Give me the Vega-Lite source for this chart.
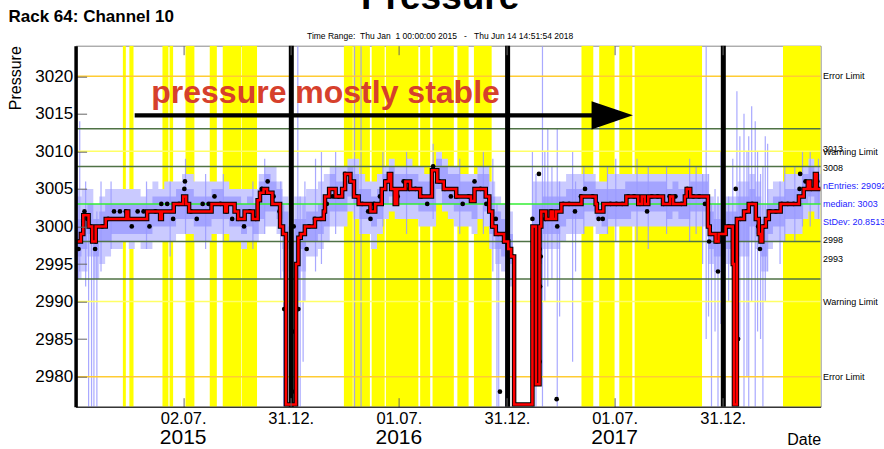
{
  "$schema": "https://vega.github.io/schema/vega-lite/v6.json",
  "width": 745,
  "height": 361,
  "autosize": {"type": "none"},
  "padding": {"left": 75.6, "top": 45.7, "right": 63.4, "bottom": 42.3},
  "background": "white",
  "config": {"font": "Liberation Sans", "view": {"stroke": "#888", "strokeWidth": 1}, "axis": {"grid": false}},
  "title": {"text": "Pressure", "subtitle": "Time Range:\u00a0\u00a0Thu Jan\u00a0\u00a01 00:00:00 2015\u00a0\u00a0\u00a0-\u00a0\u00a0\u00a0Thu Jun 14 14:51:54 2018", "font": "Liberation Sans", "fontSize": 37, "fontWeight": "bold", "color": "black", "subtitleFont": "Liberation Sans", "subtitleFontSize": 8.5, "subtitleColor": "black", "subtitlePadding": 15, "anchor": "middle", "frame": "group", "offset": -34, "dx": -8},
  "datasets": {
    "yb": [
      {"d": "2015-03-22", "d2": "2015-03-27"}, {"d": "2015-04-02", "d2": "2015-04-09"},
      {"d": "2015-05-28", "d2": "2015-06-07"}, {"d": "2015-06-09", "d2": "2015-06-15"},
      {"d": "2015-07-06", "d2": "2015-07-21"}, {"d": "2015-08-16", "d2": "2015-08-28"},
      {"d": "2015-09-07", "d2": "2015-10-08"}, {"d": "2015-10-09", "d2": "2015-11-04"},
      {"d": "2016-03-30", "d2": "2016-04-14"}, {"d": "2016-04-15", "d2": "2016-05-13"},
      {"d": "2016-05-16", "d2": "2016-06-07"}, {"d": "2016-06-09", "d2": "2016-08-03"},
      {"d": "2016-08-06", "d2": "2016-08-23"}, {"d": "2016-08-27", "d2": "2016-10-02"},
      {"d": "2016-10-08", "d2": "2016-10-27"}, {"d": "2016-11-05", "d2": "2016-12-05"},
      {"d": "2017-05-06", "d2": "2017-05-26"}, {"d": "2017-06-05", "d2": "2017-07-01"},
      {"d": "2017-07-09", "d2": "2017-07-31"}, {"d": "2017-08-04", "d2": "2017-11-26"},
      {"d": "2018-04-12", "d2": "2018-06-15"}
    ],
    "band": [
      {"d":"2015-01-01","lo":2996,"hi":3001,"lo2":2993,"hi2":3004},
      {"d":"2015-01-11","lo":2997,"hi":3002,"lo2":2994,"hi2":3005},
      {"d":"2015-01-21","lo":2999,"hi":3003,"lo2":2996,"hi2":3005},
      {"d":"2015-01-31","lo":2996,"hi":3001,"lo2":2993,"hi2":3003},
      {"d":"2015-02-10","lo":2998,"hi":3002,"lo2":2995,"hi2":3004},
      {"d":"2015-02-20","lo":2998,"hi":3003,"lo2":2996,"hi2":3005},
      {"d":"2015-03-02","lo":2999,"hi":3003,"lo2":2997,"hi2":3005},
      {"d":"2015-03-12","lo":2999,"hi":3003,"lo2":2997,"hi2":3005},
      {"d":"2015-03-22","lo":2999,"hi":3003,"lo2":2998,"hi2":3005},
      {"d":"2015-04-01","lo":2999,"hi":3003,"lo2":2997,"hi2":3005},
      {"d":"2015-04-11","lo":2999,"hi":3003,"lo2":2998,"hi2":3005},
      {"d":"2015-04-21","lo":2999,"hi":3003,"lo2":2997,"hi2":3004},
      {"d":"2015-05-01","lo":2999,"hi":3003,"lo2":2997,"hi2":3005},
      {"d":"2015-05-11","lo":3000,"hi":3004,"lo2":2998,"hi2":3006},
      {"d":"2015-05-21","lo":3000,"hi":3004,"lo2":2998,"hi2":3005},
      {"d":"2015-05-31","lo":3000,"hi":3004,"lo2":2998,"hi2":3006},
      {"d":"2015-06-10","lo":3000,"hi":3004,"lo2":2998,"hi2":3006},
      {"d":"2015-06-20","lo":3001,"hi":3005,"lo2":2999,"hi2":3006},
      {"d":"2015-06-30","lo":3001,"hi":3005,"lo2":2999,"hi2":3007},
      {"d":"2015-07-10","lo":3001,"hi":3005,"lo2":2999,"hi2":3007},
      {"d":"2015-07-20","lo":3000,"hi":3004,"lo2":2998,"hi2":3006},
      {"d":"2015-07-30","lo":3000,"hi":3004,"lo2":2998,"hi2":3006},
      {"d":"2015-08-09","lo":3000,"hi":3004,"lo2":2998,"hi2":3006},
      {"d":"2015-08-19","lo":3001,"hi":3005,"lo2":2999,"hi2":3006},
      {"d":"2015-08-29","lo":3001,"hi":3005,"lo2":2999,"hi2":3006},
      {"d":"2015-09-08","lo":3001,"hi":3004,"lo2":2999,"hi2":3006},
      {"d":"2015-09-18","lo":3000,"hi":3004,"lo2":2998,"hi2":3005},
      {"d":"2015-09-28","lo":3000,"hi":3004,"lo2":2998,"hi2":3005},
      {"d":"2015-10-08","lo":2999,"hi":3003,"lo2":2997,"hi2":3005},
      {"d":"2015-10-18","lo":3000,"hi":3004,"lo2":2998,"hi2":3005},
      {"d":"2015-10-28","lo":2999,"hi":3003,"lo2":2998,"hi2":3005},
      {"d":"2015-11-07","lo":3001,"hi":3006,"lo2":2999,"hi2":3007},
      {"d":"2015-11-17","lo":3002,"hi":3007,"lo2":3000,"hi2":3008},
      {"d":"2015-11-27","lo":3002,"hi":3006,"lo2":3000,"hi2":3008},
      {"d":"2015-12-07","lo":3001,"hi":3005,"lo2":2999,"hi2":3006},
      {"d":"2015-12-17","lo":2997,"hi":3002,"lo2":2994,"hi2":3004},
      {"d":"2015-12-27","lo":2999,"hi":2999,"lo2":2999,"hi2":2999},
      {"d":"2016-01-06","lo":2993,"hi":3001,"lo2":2990,"hi2":3004},
      {"d":"2016-01-16","lo":2997,"hi":3001,"lo2":2994,"hi2":3004},
      {"d":"2016-01-26","lo":2998,"hi":3002,"lo2":2996,"hi2":3005},
      {"d":"2016-02-05","lo":2998,"hi":3002,"lo2":2996,"hi2":3005},
      {"d":"2016-02-15","lo":2999,"hi":3003,"lo2":2997,"hi2":3006},
      {"d":"2016-02-25","lo":3000,"hi":3004,"lo2":2998,"hi2":3007},
      {"d":"2016-03-06","lo":3002,"hi":3007,"lo2":3000,"hi2":3008},
      {"d":"2016-03-16","lo":3002,"hi":3006,"lo2":3000,"hi2":3008},
      {"d":"2016-03-26","lo":3002,"hi":3006,"lo2":3000,"hi2":3008},
      {"d":"2016-04-05","lo":3004,"hi":3008,"lo2":3002,"hi2":3009},
      {"d":"2016-04-15","lo":3003,"hi":3007,"lo2":3001,"hi2":3009},
      {"d":"2016-04-25","lo":3001,"hi":3005,"lo2":2999,"hi2":3007},
      {"d":"2016-05-05","lo":3001,"hi":3005,"lo2":2999,"hi2":3006},
      {"d":"2016-05-15","lo":3000,"hi":3004,"lo2":2997,"hi2":3006},
      {"d":"2016-05-25","lo":3001,"hi":3005,"lo2":2999,"hi2":3007},
      {"d":"2016-06-04","lo":3003,"hi":3007,"lo2":3001,"hi2":3008},
      {"d":"2016-06-14","lo":3004,"hi":3008,"lo2":3002,"hi2":3009},
      {"d":"2016-06-24","lo":3003,"hi":3007,"lo2":3001,"hi2":3008},
      {"d":"2016-07-04","lo":3003,"hi":3007,"lo2":3001,"hi2":3008},
      {"d":"2016-07-14","lo":3003,"hi":3007,"lo2":3001,"hi2":3009},
      {"d":"2016-07-24","lo":3003,"hi":3007,"lo2":3001,"hi2":3008},
      {"d":"2016-08-03","lo":3002,"hi":3006,"lo2":3000,"hi2":3008},
      {"d":"2016-08-13","lo":3002,"hi":3006,"lo2":3000,"hi2":3007},
      {"d":"2016-08-23","lo":3002,"hi":3006,"lo2":3000,"hi2":3008},
      {"d":"2016-09-02","lo":3005,"hi":3009,"lo2":3003,"hi2":3010},
      {"d":"2016-09-12","lo":3003,"hi":3008,"lo2":3002,"hi2":3009},
      {"d":"2016-09-22","lo":3003,"hi":3007,"lo2":3001,"hi2":3008},
      {"d":"2016-10-02","lo":3002,"hi":3007,"lo2":3000,"hi2":3008},
      {"d":"2016-10-12","lo":3002,"hi":3006,"lo2":3000,"hi2":3007},
      {"d":"2016-10-22","lo":3002,"hi":3006,"lo2":3000,"hi2":3007},
      {"d":"2016-11-01","lo":3001,"hi":3006,"lo2":2999,"hi2":3007},
      {"d":"2016-11-11","lo":3003,"hi":3007,"lo2":3001,"hi2":3008},
      {"d":"2016-11-21","lo":3002,"hi":3007,"lo2":3000,"hi2":3008},
      {"d":"2016-12-01","lo":2999,"hi":3004,"lo2":2997,"hi2":3006},
      {"d":"2016-12-11","lo":2997,"hi":3002,"lo2":2995,"hi2":3004},
      {"d":"2016-12-21","lo":2996,"hi":3001,"lo2":2994,"hi2":3003},
      {"d":"2016-12-31","lo":2995,"hi":2999,"lo2":2992,"hi2":3002},
      {"d":"2017-01-10","lo":2996,"hi":2996,"lo2":2996,"hi2":2996},
      {"d":"2017-02-12","lo":2997,"hi":3003,"lo2":2994,"hi2":3006},
      {"d":"2017-02-19","lo":2998,"hi":3003,"lo2":2995,"hi2":3006},
      {"d":"2017-03-01","lo":2999,"hi":3004,"lo2":2997,"hi2":3006},
      {"d":"2017-03-11","lo":2999,"hi":3004,"lo2":2997,"hi2":3006},
      {"d":"2017-03-21","lo":2999,"hi":3004,"lo2":2997,"hi2":3006},
      {"d":"2017-03-31","lo":3000,"hi":3004,"lo2":2998,"hi2":3006},
      {"d":"2017-04-10","lo":3001,"hi":3005,"lo2":2999,"hi2":3007},
      {"d":"2017-04-20","lo":3001,"hi":3005,"lo2":2999,"hi2":3007},
      {"d":"2017-04-30","lo":3001,"hi":3005,"lo2":2999,"hi2":3007},
      {"d":"2017-05-10","lo":3002,"hi":3006,"lo2":3000,"hi2":3007},
      {"d":"2017-05-20","lo":3002,"hi":3006,"lo2":3000,"hi2":3007},
      {"d":"2017-05-30","lo":3001,"hi":3005,"lo2":2999,"hi2":3006},
      {"d":"2017-06-09","lo":3000,"hi":3005,"lo2":2999,"hi2":3006},
      {"d":"2017-06-19","lo":3001,"hi":3005,"lo2":3000,"hi2":3007},
      {"d":"2017-06-29","lo":3001,"hi":3005,"lo2":3000,"hi2":3007},
      {"d":"2017-07-09","lo":3001,"hi":3005,"lo2":3000,"hi2":3007},
      {"d":"2017-07-19","lo":3001,"hi":3006,"lo2":3000,"hi2":3007},
      {"d":"2017-07-29","lo":3002,"hi":3006,"lo2":3000,"hi2":3007},
      {"d":"2017-08-08","lo":3002,"hi":3006,"lo2":3000,"hi2":3007},
      {"d":"2017-08-18","lo":3002,"hi":3006,"lo2":3000,"hi2":3007},
      {"d":"2017-08-28","lo":3002,"hi":3006,"lo2":3000,"hi2":3007},
      {"d":"2017-09-07","lo":3002,"hi":3006,"lo2":3000,"hi2":3007},
      {"d":"2017-09-17","lo":3002,"hi":3006,"lo2":3000,"hi2":3007},
      {"d":"2017-09-27","lo":3001,"hi":3005,"lo2":3000,"hi2":3007},
      {"d":"2017-10-07","lo":3002,"hi":3006,"lo2":3000,"hi2":3007},
      {"d":"2017-10-17","lo":3001,"hi":3005,"lo2":3000,"hi2":3007},
      {"d":"2017-10-27","lo":3001,"hi":3005,"lo2":3000,"hi2":3007},
      {"d":"2017-11-06","lo":3002,"hi":3006,"lo2":3000,"hi2":3007},
      {"d":"2017-11-16","lo":3002,"hi":3006,"lo2":3000,"hi2":3007},
      {"d":"2017-11-26","lo":3002,"hi":3006,"lo2":3000,"hi2":3007},
      {"d":"2017-12-06","lo":2997,"hi":3002,"lo2":2995,"hi2":3004},
      {"d":"2017-12-16","lo":2996,"hi":3001,"lo2":2994,"hi2":3003},
      {"d":"2017-12-26","lo":2996,"hi":3001,"lo2":2994,"hi2":3003},
      {"d":"2018-01-05","lo":2997,"hi":3002,"lo2":2995,"hi2":3004},
      {"d":"2018-01-15","lo":2996,"hi":3002,"lo2":2993,"hi2":3004},
      {"d":"2018-01-25","lo":2998,"hi":3004,"lo2":2996,"hi2":3006},
      {"d":"2018-02-04","lo":2998,"hi":3004,"lo2":2996,"hi2":3006},
      {"d":"2018-02-14","lo":3000,"hi":3005,"lo2":2998,"hi2":3007},
      {"d":"2018-02-24","lo":2999,"hi":3004,"lo2":2997,"hi2":3006},
      {"d":"2018-03-06","lo":2996,"hi":3001,"lo2":2994,"hi2":3003},
      {"d":"2018-03-16","lo":2999,"hi":3003,"lo2":2997,"hi2":3005},
      {"d":"2018-03-26","lo":3000,"hi":3004,"lo2":2998,"hi2":3006},
      {"d":"2018-04-05","lo":3000,"hi":3004,"lo2":2998,"hi2":3006},
      {"d":"2018-04-15","lo":3001,"hi":3005,"lo2":2999,"hi2":3007},
      {"d":"2018-04-25","lo":3001,"hi":3005,"lo2":2999,"hi2":3007},
      {"d":"2018-05-05","lo":3001,"hi":3005,"lo2":2999,"hi2":3007},
      {"d":"2018-05-15","lo":3003,"hi":3007,"lo2":3001,"hi2":3008},
      {"d":"2018-05-25","lo":3004,"hi":3008,"lo2":3002,"hi2":3009},
      {"d":"2018-06-04","lo":3003,"hi":3007,"lo2":3001,"hi2":3008},
      {"d":"2018-06-14T14:51:54Z","lo":3003,"hi":3007,"lo2":3001,"hi2":3008}
    ],
    "sp": [
      {"d":"2015-01-05","lo":2993,"hi":3005},{"d":"2015-01-08","lo":2994,"hi":3014},
      {"d":"2015-01-18","lo":2992,"hi":3006},{"d":"2015-01-23","lo":2976,"hi":3002},
      {"d":"2015-01-28","lo":2976,"hi":3001},{"d":"2015-02-01","lo":2976,"hi":3000},
      {"d":"2015-02-06","lo":2976,"hi":3002},{"d":"2015-02-13","lo":2994,"hi":3006},
      {"d":"2015-03-02","lo":2997,"hi":3006},{"d":"2015-05-01","lo":2997,"hi":3006},
      {"d":"2015-06-10","lo":2996,"hi":3006},{"d":"2015-07-06","lo":2999,"hi":3009},
      {"d":"2015-08-09","lo":2997,"hi":3007},{"d":"2015-09-08","lo":2998,"hi":3007},
      {"d":"2015-10-28","lo":2997,"hi":3006},{"d":"2015-11-17","lo":2999,"hi":3009},
      {"d":"2015-12-14","lo":2993,"hi":3006},{"d":"2015-12-19","lo":2976,"hi":3003},
      {"d":"2015-12-26","lo":2976,"hi":3000},{"d":"2016-01-09","lo":2976,"hi":3001},
      {"d":"2016-01-12","lo":2976,"hi":3024},{"d":"2016-01-16","lo":2976,"hi":3004},
      {"d":"2016-01-21","lo":2982,"hi":3003},{"d":"2016-01-24","lo":2990,"hi":3006},
      {"d":"2016-02-11","lo":2994,"hi":3009},{"d":"2016-02-21","lo":2995,"hi":3010},
      {"d":"2016-03-16","lo":2999,"hi":3010},{"d":"2016-04-17","lo":2976,"hi":3024},
      {"d":"2016-04-28","lo":2976,"hi":3024},{"d":"2016-06-04","lo":3000,"hi":3010},
      {"d":"2016-07-14","lo":2999,"hi":3010},{"d":"2016-08-28","lo":3001,"hi":3011},
      {"d":"2016-10-12","lo":2999,"hi":3009},{"d":"2016-11-21","lo":2999,"hi":3010},
      {"d":"2016-12-07","lo":2994,"hi":3009},{"d":"2016-12-14","lo":2976,"hi":3003},
      {"d":"2016-12-17","lo":2976,"hi":3002},{"d":"2016-12-29","lo":2976,"hi":3000},
      {"d":"2017-01-03","lo":2976,"hi":3000},{"d":"2017-02-12","lo":2976,"hi":3010},
      {"d":"2017-02-18","lo":2976,"hi":3007},{"d":"2017-03-01","lo":2976,"hi":3024},
      {"d":"2017-03-05","lo":2990,"hi":3010},{"d":"2017-03-10","lo":2992,"hi":3013},
      {"d":"2017-03-17","lo":2993,"hi":3008},{"d":"2017-03-26","lo":2976,"hi":3013},
      {"d":"2017-03-30","lo":2988,"hi":3006},{"d":"2017-04-21","lo":2982,"hi":3010},
      {"d":"2017-04-26","lo":2994,"hi":3006},{"d":"2017-05-10","lo":2999,"hi":3008},
      {"d":"2017-06-19","lo":2999,"hi":3008},{"d":"2017-07-03","lo":2998,"hi":3009},
      {"d":"2017-08-08","lo":2998,"hi":3009},{"d":"2017-08-27","lo":2997,"hi":3008},
      {"d":"2017-09-27","lo":2999,"hi":3008},{"d":"2017-11-05","lo":2998,"hi":3009},
      {"d":"2017-11-16","lo":2999,"hi":3008},{"d":"2017-11-27","lo":2995,"hi":3007},
      {"d":"2017-12-03","lo":2985,"hi":3024},{"d":"2017-12-07","lo":2988,"hi":3007},
      {"d":"2017-12-12","lo":2976,"hi":3003},{"d":"2017-12-18","lo":2986,"hi":3005},
      {"d":"2017-12-23","lo":2976,"hi":3004},{"d":"2017-12-28","lo":2987,"hi":3010},
      {"d":"2018-01-10","lo":2990,"hi":3004},{"d":"2018-01-17","lo":2976,"hi":3009},
      {"d":"2018-01-24","lo":2976,"hi":3018},{"d":"2018-01-29","lo":2985,"hi":3012},
      {"d":"2018-02-05","lo":2976,"hi":3015},{"d":"2018-02-10","lo":2980,"hi":3010},
      {"d":"2018-02-13","lo":2976,"hi":3012},{"d":"2018-02-18","lo":2990,"hi":3016},
      {"d":"2018-02-24","lo":2976,"hi":3014},{"d":"2018-02-28","lo":2986,"hi":3010},
      {"d":"2018-03-05","lo":2985,"hi":3007},{"d":"2018-03-09","lo":2976,"hi":3008},
      {"d":"2018-03-13","lo":2990,"hi":3012},{"d":"2018-03-17","lo":2994,"hi":3011},
      {"d":"2018-04-07","lo":2995,"hi":3006},{"d":"2018-04-15","lo":2998,"hi":3008},
      {"d":"2018-05-02","lo":2998,"hi":3008},{"d":"2018-05-15","lo":3000,"hi":3010},
      {"d":"2018-05-28","lo":3000,"hi":3010},{"d":"2018-06-11","lo":3001,"hi":3009}
    ],
    "lim": [
      {"v":3020,"k":"error"},{"v":2980,"k":"error"},
      {"v":3010,"k":"warning"},{"v":2990,"k":"warning"},
      {"v":3013,"k":"limit"},{"v":3008,"k":"limit"},{"v":2998,"k":"limit"},{"v":2993,"k":"limit"},
      {"v":3003,"k":"median"}
    ],
    "yl": [{"d":"2016-01-01"},{"d":"2017-01-01"},{"d":"2018-01-01"}],
    "pt": [
      {"d":"2015-01-06","v":2997},{"d":"2015-01-11","v":2999},{"d":"2015-01-16","v":3002},
      {"d":"2015-01-21","v":3001},{"d":"2015-01-26","v":3000},{"d":"2015-02-03","v":2997},
      {"d":"2015-02-04","v":2998},{"d":"2015-02-15","v":3000},{"d":"2015-02-25","v":3001},
      {"d":"2015-03-07","v":3002},{"d":"2015-03-17","v":3002},{"d":"2015-03-27","v":3002},
      {"d":"2015-04-06","v":3000},{"d":"2015-04-16","v":3002},{"d":"2015-04-26","v":3002},
      {"d":"2015-05-06","v":3000},{"d":"2015-05-16","v":3002},{"d":"2015-05-26","v":3003},
      {"d":"2015-06-05","v":3003},{"d":"2015-06-15","v":3001},{"d":"2015-06-25","v":3003},
      {"d":"2015-07-04","v":3005},{"d":"2015-07-05","v":3006},{"d":"2015-07-15","v":3002},
      {"d":"2015-07-25","v":3001},{"d":"2015-08-04","v":3003},{"d":"2015-08-14","v":3003},
      {"d":"2015-08-24","v":3004},{"d":"2015-09-03","v":3003},{"d":"2015-09-13","v":3002},
      {"d":"2015-09-23","v":3001},{"d":"2015-10-03","v":3001},{"d":"2015-10-13","v":3000},
      {"d":"2015-10-23","v":3002},{"d":"2015-11-02","v":3001},{"d":"2015-11-12","v":3005},
      {"d":"2015-11-22","v":3006},{"d":"2015-12-02","v":3004},{"d":"2015-12-12","v":3002},
      {"d":"2015-12-20","v":2989},{"d":"2016-01-05","v":3000},{"d":"2016-01-06","v":2986},
      {"d":"2016-01-07","v":2978},{"d":"2016-01-10","v":2995},{"d":"2016-01-13","v":2989},
      {"d":"2016-01-21","v":2999},{"d":"2016-01-27","v":2997},{"d":"2016-01-31","v":3000},
      {"d":"2016-02-10","v":3001},{"d":"2016-02-20","v":3001},{"d":"2016-03-01","v":3003},
      {"d":"2016-03-11","v":3004},{"d":"2016-03-21","v":3004},{"d":"2016-03-31","v":3005},
      {"d":"2016-04-01","v":3007},{"d":"2016-04-10","v":3006},{"d":"2016-04-20","v":3004},
      {"d":"2016-04-30","v":3003},{"d":"2016-05-10","v":3002},{"d":"2016-05-14","v":3001},
      {"d":"2016-05-20","v":3003},{"d":"2016-05-30","v":3004},{"d":"2016-06-09","v":3006},
      {"d":"2016-06-19","v":3005},{"d":"2016-06-29","v":3004},{"d":"2016-07-09","v":3006},
      {"d":"2016-07-19","v":3005},{"d":"2016-07-29","v":3005},{"d":"2016-08-08","v":3004},
      {"d":"2016-08-18","v":3003},{"d":"2016-08-28","v":3008},{"d":"2016-09-07","v":3006},
      {"d":"2016-09-17","v":3005},{"d":"2016-09-27","v":3004},{"d":"2016-10-07","v":3004},
      {"d":"2016-10-17","v":3003},{"d":"2016-10-27","v":3004},{"d":"2016-11-06","v":3006},
      {"d":"2016-11-16","v":3005},{"d":"2016-11-26","v":3003},{"d":"2016-12-06","v":3000},
      {"d":"2016-12-12","v":3001},{"d":"2016-12-16","v":2999},{"d":"2016-12-19","v":2978},
      {"d":"2016-12-26","v":2998},{"d":"2017-01-05","v":2997},{"d":"2017-01-10","v":2996},
      {"d":"2017-02-12","v":3001},{"d":"2017-02-23","v":3007},{"d":"2017-02-24","v":2997},
      {"d":"2017-02-25","v":2992},{"d":"2017-02-26","v":2996},{"d":"2017-02-24","v":2982},
      {"d":"2017-03-06","v":3001},{"d":"2017-03-16","v":3002},{"d":"2017-03-26","v":3000},
      {"d":"2017-03-25","v":2977},{"d":"2017-04-05","v":3003},{"d":"2017-04-15","v":3003},
      {"d":"2017-04-25","v":3002},{"d":"2017-05-05","v":3004},{"d":"2017-05-12","v":3005},
      {"d":"2017-05-25","v":3004},{"d":"2017-06-04","v":3001},{"d":"2017-06-11","v":3001},
      {"d":"2017-06-24","v":3003},{"d":"2017-07-04","v":3003},{"d":"2017-07-14","v":3003},
      {"d":"2017-07-24","v":3004},{"d":"2017-08-03","v":3004},{"d":"2017-08-13","v":3003},
      {"d":"2017-08-25","v":3002},{"d":"2017-09-02","v":3004},{"d":"2017-09-12","v":3004},
      {"d":"2017-09-22","v":3003},{"d":"2017-10-02","v":3004},{"d":"2017-10-12","v":3004},
      {"d":"2017-10-22","v":3003},{"d":"2017-11-01","v":3005},{"d":"2017-11-11","v":3004},
      {"d":"2017-11-21","v":3004},{"d":"2017-12-01","v":3003},{"d":"2017-12-08","v":2998},
      {"d":"2017-12-11","v":2999},{"d":"2017-12-21","v":2998},{"d":"2017-12-23","v":2994},
      {"d":"2017-12-31","v":2999},{"d":"2018-01-10","v":3000},{"d":"2018-01-18","v":2995},
      {"d":"2018-01-22","v":3005},{"d":"2018-01-26","v":2985},{"d":"2018-01-30","v":3001},
      {"d":"2018-02-09","v":3002},{"d":"2018-02-19","v":3003},{"d":"2018-03-01","v":3000},
      {"d":"2018-03-04","v":2997},{"d":"2018-03-11","v":3000},{"d":"2018-03-21","v":3002},
      {"d":"2018-03-31","v":3002},{"d":"2018-04-10","v":3003},{"d":"2018-04-20","v":3003},
      {"d":"2018-04-30","v":3003},{"d":"2018-05-10","v":3005},{"d":"2018-05-11","v":3007},
      {"d":"2018-05-20","v":3006},{"d":"2018-05-30","v":3005},{"d":"2018-06-09","v":3006}
    ],
    "sm": [
      {"d":"2015-01-01","v":2998},{"d":"2015-01-10","v":2999},{"d":"2015-01-14","v":3001.5},
      {"d":"2015-01-23","v":3000},{"d":"2015-01-29","v":2998},{"d":"2015-02-04","v":3000},
      {"d":"2015-02-21","v":3001},{"d":"2015-03-28","v":3002},{"d":"2015-03-31","v":3001},
      {"d":"2015-05-02","v":3002},{"d":"2015-05-24","v":3001},{"d":"2015-05-27","v":3002},
      {"d":"2015-06-16","v":3003},{"d":"2015-07-02","v":3004},{"d":"2015-07-07","v":3003},
      {"d":"2015-07-12","v":3002},{"d":"2015-08-19","v":3003},{"d":"2015-09-11","v":3002},
      {"d":"2015-09-14","v":3003},{"d":"2015-09-27","v":3002},{"d":"2015-10-03","v":3001},
      {"d":"2015-10-14","v":3002},{"d":"2015-10-28","v":3001},{"d":"2015-11-05","v":3003.5},
      {"d":"2015-11-09","v":3004.5},{"d":"2015-11-15","v":3005},{"d":"2015-11-21","v":3004.5},
      {"d":"2015-11-30","v":3003},{"d":"2015-12-13","v":3000},{"d":"2015-12-18","v":2999},
      {"d":"2015-12-23","v":2976.3},{"d":"2016-01-09","v":2995},{"d":"2016-01-13","v":2998.5},
      {"d":"2016-01-17","v":2999},{"d":"2016-01-24","v":3000},{"d":"2016-02-10","v":3001},
      {"d":"2016-02-25","v":3002},{"d":"2016-02-27","v":3004},{"d":"2016-03-05","v":3005},
      {"d":"2016-03-16","v":3004},{"d":"2016-03-27","v":3005},{"d":"2016-04-01","v":3007},
      {"d":"2016-04-10","v":3006},{"d":"2016-04-16","v":3004},{"d":"2016-04-24","v":3003},
      {"d":"2016-05-14","v":3002},{"d":"2016-05-22","v":3003},{"d":"2016-06-02","v":3005},
      {"d":"2016-06-08","v":3006},{"d":"2016-06-14","v":3007},{"d":"2016-06-18","v":3005},
      {"d":"2016-06-24","v":3003},{"d":"2016-06-28","v":3005},{"d":"2016-07-12","v":3006},
      {"d":"2016-07-20","v":3005},{"d":"2016-08-06","v":3004},{"d":"2016-08-26","v":3007.5},
      {"d":"2016-09-04","v":3006},{"d":"2016-09-15","v":3005},{"d":"2016-10-06","v":3004},
      {"d":"2016-10-31","v":3003.4},{"d":"2016-11-06","v":3005},{"d":"2016-11-25","v":3004},
      {"d":"2016-12-01","v":3002},{"d":"2016-12-06","v":3000},{"d":"2016-12-12","v":2999},
      {"d":"2016-12-26","v":2998},{"d":"2017-01-02","v":2997},{"d":"2017-01-07","v":2996},
      {"d":"2017-01-12","v":2976.3},{"d":"2017-02-12","v":3000},{"d":"2017-02-18","v":2979},
      {"d":"2017-02-24","v":3000},{"d":"2017-02-27","v":3002},{"d":"2017-03-07","v":3001},
      {"d":"2017-03-15","v":3002},{"d":"2017-03-19","v":3001},{"d":"2017-03-24","v":3002},
      {"d":"2017-04-02","v":3003},{"d":"2017-05-06","v":3004},{"d":"2017-05-30","v":3003},
      {"d":"2017-06-01","v":3002},{"d":"2017-06-12","v":3003},{"d":"2017-07-21","v":3004},
      {"d":"2017-08-10","v":3003},{"d":"2017-08-16","v":3004},{"d":"2017-08-21","v":3003},
      {"d":"2017-08-27","v":3004},{"d":"2017-09-21","v":3003},{"d":"2017-10-03","v":3004},
      {"d":"2017-10-08","v":3003},{"d":"2017-10-28","v":3004},{"d":"2017-10-31","v":3005},
      {"d":"2017-11-06","v":3004},{"d":"2017-12-06","v":3000},{"d":"2017-12-09","v":2999},
      {"d":"2017-12-19","v":2998},{"d":"2017-12-24","v":2999},{"d":"2018-01-05","v":3000},
      {"d":"2018-01-17","v":2995},{"d":"2018-01-19","v":2976.3},{"d":"2018-01-24","v":3001},
      {"d":"2018-02-05","v":3002},{"d":"2018-02-13","v":3003},{"d":"2018-02-25","v":3001},
      {"d":"2018-03-02","v":2999},{"d":"2018-03-05","v":2998},{"d":"2018-03-08","v":3000},
      {"d":"2018-03-14","v":3001},{"d":"2018-03-19","v":3002},{"d":"2018-04-08","v":3003},
      {"d":"2018-05-09","v":3004},{"d":"2018-05-17","v":3005},{"d":"2018-05-24","v":3006},
      {"d":"2018-05-28","v":3005},{"d":"2018-06-05","v":3007},{"d":"2018-06-08","v":3005},
      {"d":"2018-06-14T14:51:54Z","v":3005}
    ],
    "lab": [
      {"d":"2018-06-14T14:51:54Z","v":3020,"t":"Error Limit","k":"plain"},
      {"d":"2018-06-14T14:51:54Z","v":3010.3,"t":"3013","k":"plain"},
      {"d":"2018-06-14T14:51:54Z","v":3009.9,"t":"Warning Limit","k":"plain"},
      {"d":"2018-06-14T14:51:54Z","v":3007.8,"t":"3008","k":"plain"},
      {"d":"2018-06-14T14:51:54Z","v":3005.4,"t":"nEntries: 290929","k":"stat"},
      {"d":"2018-06-14T14:51:54Z","v":3003.0,"t":"median: 3003","k":"stat"},
      {"d":"2018-06-14T14:51:54Z","v":3000.6,"t":"StDev: 20.8513","k":"stat"},
      {"d":"2018-06-14T14:51:54Z","v":2998.2,"t":"2998","k":"plain"},
      {"d":"2018-06-14T14:51:54Z","v":2995.7,"t":"2993","k":"plain"},
      {"d":"2018-06-14T14:51:54Z","v":2990,"t":"Warning Limit","k":"plain"},
      {"d":"2018-06-14T14:51:54Z","v":2980,"t":"Error Limit","k":"plain"}
    ],
    "note": [{"d":"2015-05-09","v":3016.4,"t":"pressure mostly stable"}],
    "arrow": [{"d":"2015-04-11","d2":"2017-06-06","v":3014.8}],
    "head": [{"d":"2017-06-27","v":3014.8}],
    "yr": [{"d":"2015-07-02","t":"2015"},{"d":"2016-07-01","t":"2016"},{"d":"2017-07-01","t":"2017"}]
  },
  "resolve": {"axis": {"x": "independent"}},
  "layer": [
    {
      "encoding": {
        "x": {
          "field": "d", "type": "temporal",
          "scale": {"type": "utc", "domain": [{"year": 2015, "month": 1, "date": 1, "utc": true}, {"year": 2018, "month": 6, "date": 14, "hours": 14, "minutes": 51, "seconds": 54, "utc": true}]},
          "axis": {
            "orient": "bottom", "zindex": 1,
            "values": [{"year":2015,"month":7,"date":2,"utc":true},{"year":2015,"month":12,"date":31,"utc":true},{"year":2016,"month":7,"date":1,"utc":true},{"year":2016,"month":12,"date":31,"utc":true},{"year":2017,"month":7,"date":1,"utc":true},{"year":2017,"month":12,"date":31,"utc":true}],
            "format": "%d.%m.",
            "labelFont": "Liberation Sans", "labelFontSize": 16.5, "labelColor": "black", "labelPadding": 13,
            "labelFlush": false, "labelOverlap": false,
            "ticks": true, "tickSize": -9, "tickColor": "#666",
            "domainColor": "black", "domainWidth": 1,
            "title": "Date", "titleFont": "Liberation Sans", "titleFontSize": 16, "titleFontWeight": "normal", "titleColor": "black",
            "titleX": 745, "titleY": 37.5, "titleAlign": "right", "titleBaseline": "alphabetic", "titleAngle": 0
          }
        },
        "y": {
          "field": "v", "type": "quantitative",
          "scale": {"domain": [2976, 3024.07], "nice": false, "zero": false},
          "axis": {
            "orient": "left", "zindex": 1,
            "values": [2980, 2985, 2990, 2995, 3000, 3005, 3010, 3015, 3020],
            "format": "d",
            "labelFont": "Liberation Sans", "labelFontSize": 17, "labelColor": "black", "labelPadding": 14, "labelOverlap": false,
            "ticks": true, "tickSize": -11, "tickColor": "#666",
            "domainColor": "black", "domainWidth": 3.5,
            "title": "Pressure", "titleFont": "Liberation Sans", "titleFontSize": 16, "titleFontWeight": "normal", "titleColor": "black",
            "titleX": -60, "titleY": 0, "titleAlign": "right", "titleAngle": -90, "titleBaseline": "middle"
          }
        }
      },
      "layer": [
        {"data": {"name": "yb"}, "mark": {"type": "rect", "color": "#ffff00", "clip": true}, "encoding": {"x2": {"field": "d2"}, "y": null}},
        {
          "data": {"name": "band"},
          "mark": {"type": "area", "interpolate": "step-after", "color": "#cacaff", "clip": true},
          "encoding": {"y": {"field": "lo2", "type": "quantitative"}, "y2": {"field": "hi2"}}
        },
        {
          "data": {"name": "band"},
          "mark": {"type": "area", "interpolate": "step-after", "color": "#a4a4ff", "clip": true},
          "encoding": {"y": {"field": "lo", "type": "quantitative"}, "y2": {"field": "hi"}}
        },
        {
          "data": {"name": "sp"},
          "mark": {"type": "rule", "color": "#9a9aff", "strokeWidth": 1.2, "opacity": 0.85, "clip": true},
          "encoding": {"y": {"field": "lo", "type": "quantitative"}, "y2": {"field": "hi"}}
        },
        {
          "data": {"name": "lim"},
          "mark": {"type": "rule", "strokeWidth": 1.5},
          "encoding": {
            "x": null,
            "color": {"field": "k", "type": "nominal", "scale": {"domain": ["error", "warning", "limit", "median"], "range": ["#ffcc33", "#ffff66", "#4f7245", "#33ee33"]}, "legend": null}
          }
        },
        {"data": {"name": "yl"}, "mark": {"type": "rule", "color": "black", "strokeWidth": 5}, "encoding": {"y": null}},
        {"data": {"name": "pt"}, "mark": {"type": "point", "filled": true, "color": "black", "size": 22, "opacity": 1, "clip": true}},
        {"data": {"name": "sm"}, "mark": {"type": "line", "interpolate": "step-after", "color": "black", "strokeWidth": 4.5, "clip": true}},
        {"data": {"name": "sm"}, "mark": {"type": "line", "interpolate": "step-after", "color": "#ff0000", "strokeWidth": 2.5, "clip": true}},
        {
          "data": {"name": "lab"},
          "transform": [{"filter": "datum.k === 'plain'"}],
          "mark": {"type": "text", "align": "left", "baseline": "middle", "dx": 2.5, "fontSize": 9, "font": "Liberation Sans", "color": "black"},
          "encoding": {"text": {"field": "t"}}
        },
        {
          "data": {"name": "lab"},
          "transform": [{"filter": "datum.k === 'stat'"}],
          "mark": {"type": "text", "align": "left", "baseline": "middle", "dx": 2.5, "fontSize": 9, "font": "Liberation Sans", "color": "#2222ff"},
          "encoding": {"text": {"field": "t"}}
        },
        {
          "data": {"name": "note"},
          "mark": {"type": "text", "align": "left", "baseline": "alphabetic", "fontSize": 32, "fontWeight": "bold", "font": "Liberation Sans", "color": "#d6402c"},
          "encoding": {"text": {"field": "t"}}
        },
        {
          "data": {"name": "arrow"},
          "mark": {"type": "rule", "color": "black", "strokeWidth": 4.3},
          "encoding": {"x2": {"field": "d2"}}
        },
        {
          "data": {"name": "head"},
          "mark": {"type": "point", "shape": "M-1,-0.685L1,0L-1,0.685Z", "filled": true, "color": "black", "opacity": 1, "size": 1706}
        }
      ]
    },
    {
      "data": {"name": "yr"},
      "mark": {"type": "text", "fontSize": 21, "baseline": "middle", "dy": 31, "font": "Liberation Sans", "color": "black"},
      "encoding": {
        "x": {
          "field": "d", "type": "temporal",
          "scale": {"type": "utc", "domain": [{"year": 2015, "month": 1, "date": 1, "utc": true}, {"year": 2018, "month": 6, "date": 14, "hours": 14, "minutes": 51, "seconds": 54, "utc": true}]},
          "axis": {
            "orient": "top", "zindex": 1,
            "values": [{"year":2015,"month":7,"date":2,"utc":true},{"year":2015,"month":12,"date":31,"utc":true},{"year":2016,"month":7,"date":1,"utc":true},{"year":2016,"month":12,"date":31,"utc":true},{"year":2017,"month":7,"date":1,"utc":true},{"year":2017,"month":12,"date":31,"utc":true}],
            "labels": false, "domain": false, "ticks": true, "tickSize": -9, "tickColor": "#666",
            "title": "Rack 64: Channel 10", "titleFont": "Liberation Sans", "titleFontSize": 17, "titleFontWeight": "bold", "titleColor": "black",
            "titleX": -67.6, "titleY": -29, "titleAlign": "left", "titleAngle": 0, "titleBaseline": "middle"
          }
        },
        "y": {"datum": 2976, "type": "quantitative", "scale": {"domain": [2976, 3024.07], "nice": false, "zero": false}},
        "text": {"field": "t"}
      }
    }
  ]
}
